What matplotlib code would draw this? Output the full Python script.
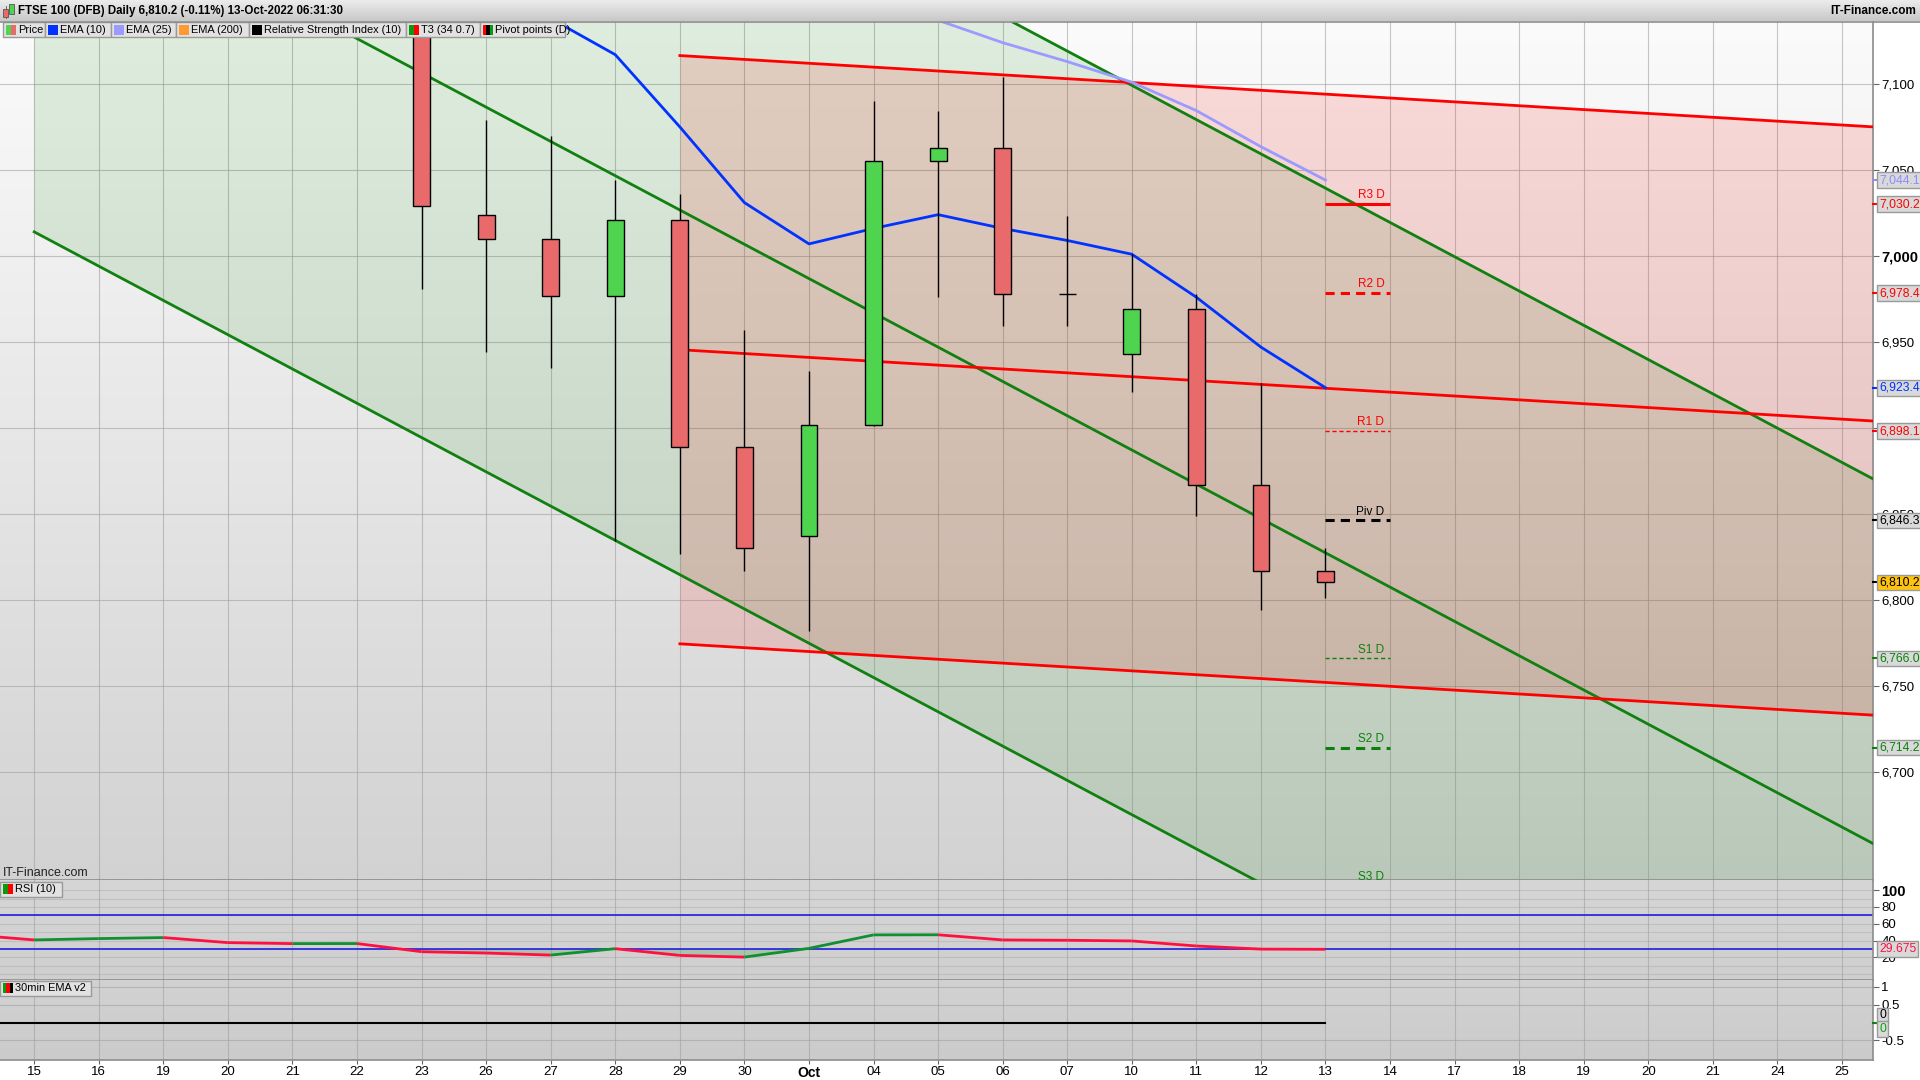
import numpy as np
import matplotlib
matplotlib.use('Agg')
import matplotlib.pyplot as plt
from matplotlib.patches import Rectangle
from matplotlib.transforms import blended_transform_factory
from matplotlib.colors import to_rgb

plt.rcParams['font.family'] = ['Liberation Sans', 'DejaVu Sans']

# trading days on the x axis (Sep 15 .. Oct 25 2022)
dates = ["15", "16", "19", "20", "21", "22", "23", "26", "27", "28", "29", "30", "Oct",
         "04", "05", "06", "07", "10", "11", "12", "13", "14", "17", "18", "19", "20",
         "21", "24", "25"]

# daily candles, first one is Sep 23 (position 6)
candle_start = 6
opens = [7159, 7024, 7010, 6977, 7021, 6889, 6837, 6902, 7055, 7063, 6978, 6943, 6969, 6867, 6817]
highs = [7162, 7079, 7070, 7044, 7036, 6957, 6933, 7090, 7084, 7104, 7023, 7001, 6978, 6926, 6830]
lows = [6981, 6944, 6935, 6834, 6827, 6817, 6782, 6901, 6976, 6959, 6959, 6921, 6849, 6794, 6801]
closes = [7029, 7010, 6977, 7021, 6889, 6830, 6902, 7055, 7063, 6978, 6978, 6969, 6867, 6817, 6810.2]

# moving averages
ema10_start = 7
ema10 = [7160, 7138, 7117, 7075, 7031, 7007, 7016, 7024, 7016, 7009, 7001, 6976, 6947, 6923.4]
ema25_start = 13
ema25 = [7150, 7137, 7124, 7113, 7101, 7084.5, 7063.5, 7044.1]

# trend channels: x range (day positions), mid line values, half width
green_ch_x = [0, 28.5]
green_ch_mid = [7226, 6658]
green_ch_half = 212
red_ch_x = [10, 28.5]
red_ch_mid = [6945.5, 6904]
red_ch_half = 171

# daily pivots for Oct 13
piv_names = ["R3 D", "R2 D", "R1 D", "Piv D", "S1 D", "S2 D", "S3 D"]
piv_values = [7030.2, 6978.4, 6898.1, 6846.3, 6766.0, 6714.2, 6633.9]

# RSI (10), first value is Sep 14 (position -1)
rsi_start = -1
rsi = [47.0, 40.8, 42.4, 43.6, 37.6, 36.4, 36.5, 26.8, 25.2, 22.8, 30.4, 22.4, 20.4, 30.8,
       46.8, 46.9, 40.8, 40.4, 39.6, 33.6, 29.9, 29.675]

# 30min EMA v2 oscillator
ema30_start = -1
ema30 = [0, 0, 0, 0, 0, 0, 0, 0, 0, 0, 0, 0, 0, 0, 0, 0, 0, 0, 0, 0, 0, 0]

RED = "#ff0000"
GREEN = "#0a820a"
W, H = 1920, 1080
BOX_FS = 8.7


def frac(x0, y0, x1, y1):
    return [x0 / W, 1 - y1 / H, (x1 - x0) / W, (y1 - y0) / H]


def gradient(a, top, bottom):
    t = np.linspace(0, 1, 256)[:, None, None]
    img = np.array(to_rgb(top)) * (1 - t) + np.array(to_rgb(bottom)) * t
    a.imshow(img, extent=[0, 1, 0, 1], transform=a.transAxes, aspect='auto',
             zorder=-10, interpolation='bilinear')


fig = plt.figure(figsize=(19.2, 10.8), dpi=100, facecolor='white')
ax = fig.add_axes(frac(0, 21.5, 1873, 880))
ax_rsi = fig.add_axes(frac(0, 880, 1873, 980))
ax_ema = fig.add_axes(frac(0, 980, 1873, 1060))

x = np.arange(len(dates))
xlim = (-0.53, 28.48)

gradient(ax, '#fbfbfb', '#d2d2d2')
gradient(ax_rsi, '#d6d6d6', '#cfcfcf')
gradient(ax_ema, '#d2d2d2', '#cbcbcb')

for a in (ax, ax_rsi, ax_ema):
    a.set_autoscale_on(False)
    a.set_xlim(*xlim)
    a.set_xticks(x)
    a.set_axisbelow(True)
    a.grid(True, axis='x', color='#a0a0a0', lw=0.8, alpha=0.6)
    for s in ('left', 'top'):
        a.spines[s].set_visible(False)
    for s in ('right', 'bottom'):
        a.spines[s].set_color('#8c8c8c')
        a.spines[s].set_linewidth(1.2)
    a.yaxis.tick_right()
    a.tick_params(axis='y', direction='out', length=4, color='#666666', labelsize=9.5, pad=2)
    a.tick_params(axis='x', length=0, labelbottom=False)

# ---- main price panel
ax.set_ylim(6637.2, 7136.3)
yt = list(range(6700, 7101, 50))
ax.set_yticks(yt)
ax.set_yticklabels([f"{v:,}" for v in yt])
for lab, v in zip(ax.get_yticklabels(), yt):
    if v == 7000:
        lab.set_fontweight('bold')
        lab.set_fontsize(10.5)
ax.grid(True, axis='y', color='#a0a0a0', lw=0.8, alpha=0.6)

gx = np.array(green_ch_x, dtype=float)
gm = np.array(green_ch_mid, dtype=float)
ax.fill_between(gx, gm - green_ch_half, gm + green_ch_half, color='#008000', alpha=0.11, lw=0, zorder=1)
for off in (-green_ch_half, 0, green_ch_half):
    ax.plot(gx, gm + off, color='#108010', lw=2, zorder=3)

rx = np.array(red_ch_x, dtype=float)
rm = np.array(red_ch_mid, dtype=float)
ax.fill_between(rx, rm - red_ch_half, rm + red_ch_half, color='#ff0000', alpha=0.13, lw=0, zorder=1)
for off in (-red_ch_half, 0, red_ch_half):
    ax.plot(rx, rm + off, color=RED, lw=2, zorder=3)

ax.plot(np.arange(len(ema10)) + ema10_start, ema10, color='#0033ff', lw=2, zorder=3)
ax.plot(np.arange(len(ema25)) + ema25_start, ema25, color='#9a9aff', lw=2, zorder=3)

for i, (o, h, l, c) in enumerate(zip(opens, highs, lows, closes)):
    xi = candle_start + i
    ax.vlines(xi, l, h, color='black', lw=1, zorder=4)
    fc = '#4fd44f' if c > o else '#e86a6a'
    ax.add_patch(Rectangle((xi - 0.13, min(o, c)), 0.26, abs(c - o), facecolor=fc,
                           edgecolor='black', lw=1, zorder=5))

piv_styles = [
    (RED, '-', 2.2), (RED, (0, (3, 2)), 2.2), (RED, (0, (3, 2)), 1.0),
    ('black', (0, (3, 2)), 2.2), (GREEN, (0, (3, 2)), 1.0), (GREEN, (0, (3, 2)), 2.2),
    (GREEN, (0, (3, 2)), 2.2),
]
piv_day = 20
for name, v, (col, ls, lw) in zip(piv_names, piv_values, piv_styles):
    ax.hlines(v, piv_day, piv_day + 1, colors=col, linestyles=ls, lw=lw, zorder=4)
    ax.annotate(name, (piv_day + 0.91, v), xytext=(0, 2), textcoords='offset points',
                ha='right', va='bottom', fontsize=8.5, color=col, zorder=6,
                annotation_clip=False, clip_on=True)

# value boxes on the price scale
tr = blended_transform_factory(ax.transAxes, ax.transData)
boxes = [
    (7044.1, '#8c8cff', '#d9d9d9'), (7030.2, RED, '#d9d9d9'), (6978.4, RED, '#d9d9d9'),
    (6923.4, '#0033ff', '#d9d9d9'), (6898.1, RED, '#d9d9d9'), (6846.3, 'black', '#d9d9d9'),
    (6810.2, 'black', '#ffc20e'), (6766.0, GREEN, '#d9d9d9'), (6714.2, GREEN, '#d9d9d9'),
]
for v, col, bg in boxes:
    ax.plot([1.0, 1.0025], [v, v], color=col, lw=1.5, transform=tr, clip_on=False, zorder=9)
    ax.text(1.0033, v, f"{v:,.1f}", transform=tr, ha='left', va='center', fontsize=BOX_FS,
            color=col, zorder=10, clip_on=False,
            bbox=dict(boxstyle='square,pad=0.15', fc=bg, ec='#9a9a9a', lw=1))

# ---- RSI panel
ax_rsi.set_ylim(-6.8, 112)
ax_rsi.set_yticks([20, 40, 60, 80, 100])
ax_rsi.set_yticklabels(["20", "40", "60", "80", "100"])
ax_rsi.get_yticklabels()[-1].set_fontweight('bold')
ax_rsi.get_yticklabels()[-1].set_fontsize(10.5)
for lv in range(0, 101, 10):
    ax_rsi.axhline(lv, color='#a8a8a8', lw=0.8, alpha=0.45, zorder=0.5)
ax_rsi.axhline(70, color='#2020e0', lw=1.2, zorder=2)
ax_rsi.axhline(30, color='#2020e0', lw=1.2, zorder=2)
rx_ = np.arange(len(rsi)) + rsi_start
rv = np.array(rsi)
ax_rsi.fill_between(rx_, rv, 30, where=rv < 30, interpolate=True, color='#6aa86a', alpha=0.35, lw=0, zorder=1)
for i in range(len(rv) - 1):
    col = '#109030' if rv[i + 1] >= rv[i] else '#ff1040'
    ax_rsi.plot(rx_[i:i + 2], rv[i:i + 2], color=col, lw=2, zorder=4, solid_capstyle='butt')
tr_r = blended_transform_factory(ax_rsi.transAxes, ax_rsi.transData)
ax_rsi.text(1.0033, rsi[-1], f"{rsi[-1]:.3f}", transform=tr_r, ha='left', va='center',
            fontsize=BOX_FS, color='#ff1040', zorder=10, clip_on=False,
            bbox=dict(boxstyle='square,pad=0.15', fc='#d9d9d9', ec='#9a9a9a', lw=1))

# ---- 30min EMA panel
ax_ema.set_ylim(-1.05, 1.19)
ax_ema.set_yticks([-0.5, 0, 0.5, 1])
ax_ema.set_yticklabels(["-0.5", "0", "0.5", "1"])
for lv in (-0.5, 0.5, 1):
    ax_ema.axhline(lv, color='#a8a8a8', lw=0.8, alpha=0.7, zorder=0.5)
ax_ema.plot(np.arange(len(ema30)) + ema30_start, ema30, color='black', lw=1.5, zorder=3)
tr_e = blended_transform_factory(ax_ema.transAxes, ax_ema.transData)
ax_ema.plot([1.0, 1.0025], [0, 0], color=GREEN, lw=1.5, transform=tr_e, clip_on=False, zorder=9)
for v, col in ((0.2, 'black'), (-0.19, '#10a010')):
    ax_ema.text(1.0033, v, "0", transform=tr_e, ha='left', va='center', fontsize=BOX_FS,
                color=col, zorder=10, clip_on=False,
                bbox=dict(boxstyle='square,pad=0.15', fc='#d9d9d9', ec='#9a9a9a', lw=1))
ax_ema.tick_params(axis='x', length=3, color='#666666', direction='out', labelbottom=True,
                   labelsize=9.5, pad=1)
ax_ema.set_xticklabels(dates)
for lab in ax_ema.get_xticklabels():
    if lab.get_text() == "Oct":
        lab.set_fontweight('bold')
        lab.set_fontsize(10)

# ---- header, legend boxes and labels (pixel coordinates)
ov = fig.add_axes([0, 0, 1, 1], zorder=10)
ov.patch.set_visible(False)
t = np.linspace(0, 1, 64)[:, None, None]
head = np.array(to_rgb('#eeeeee')) * (1 - t) + np.array(to_rgb('#c8c8c8')) * t
ov.imshow(head, extent=[0, W, 21.5, 0], aspect='auto', interpolation='bilinear')
ov.set_xlim(0, W)
ov.set_ylim(H, 0)
ov.axis('off')
ov.plot([0, W], [21.5, 21.5], color='#8c8c8c', lw=1.2)
ov.add_patch(Rectangle((3, 8.5), 5, 8, fc='#e86a6a', ec='#555555', lw=0.6))
ov.plot([5.5, 5.5], [6, 18], color='#555555', lw=0.6, zorder=0)
ov.add_patch(Rectangle((9, 3.5), 5, 10, fc='#4fd44f', ec='#555555', lw=0.6))
ov.text(18, 11, "FTSE 100 (DFB) Daily 6,810.2 (-0.11%) 13-Oct-2022 06:31:30",
        fontsize=8.3, fontweight='bold', va='center', ha='left')
ov.text(1916, 11, "IT-Finance.com", fontsize=8.5, fontweight='bold', va='center', ha='right')

legend_items = [
    ("Price", ['#4fd44f', '#e86a6a']),
    ("EMA (10)", ['#0033ff']),
    ("EMA (25)", ['#9a9aff']),
    ("EMA (200)", ['#ff9a33']),
    ("Relative Strength Index (10)", ['#000000']),
    ("T3 (34 0.7)", ['#0a9a0a', '#ff0000']),
    ("Pivot points (D)", ['#ff0000', '#000000', '#0a9a0a']),
]
legend_x = [3, 45, 111, 176, 249, 406, 480, 565]


def legend_box(x0, x1, y0, label, cols):
    ov.add_patch(Rectangle((x0, y0), x1 - x0, 15, fc='#e2e2e2', ec='#9a9a9a', lw=1))
    w = 10 / len(cols)
    for k, c in enumerate(cols):
        ov.add_patch(Rectangle((x0 + 3 + k * w, y0 + 2.5), w, 10, fc=c, ec='none'))
    ov.text(x0 + 15, y0 + 7.8, label, fontsize=7.9, va='center', ha='left')


for (label, cols), x0, x1 in zip(legend_items, legend_x[:-1], legend_x[1:]):
    legend_box(x0, x1, 22, label, cols)

ov.text(3, 873, "IT-Finance.com", fontsize=9, va='center', ha='left', color='#222222')
legend_box(0, 62, 881.5, "RSI (10)", ['#0a9a0a', '#ff0000'])
legend_box(0, 91, 980.5, "30min EMA v2", ['#0a9a0a', '#ff0000', '#000000'])

plt.savefig("out.png", dpi=100)
plt.close()
